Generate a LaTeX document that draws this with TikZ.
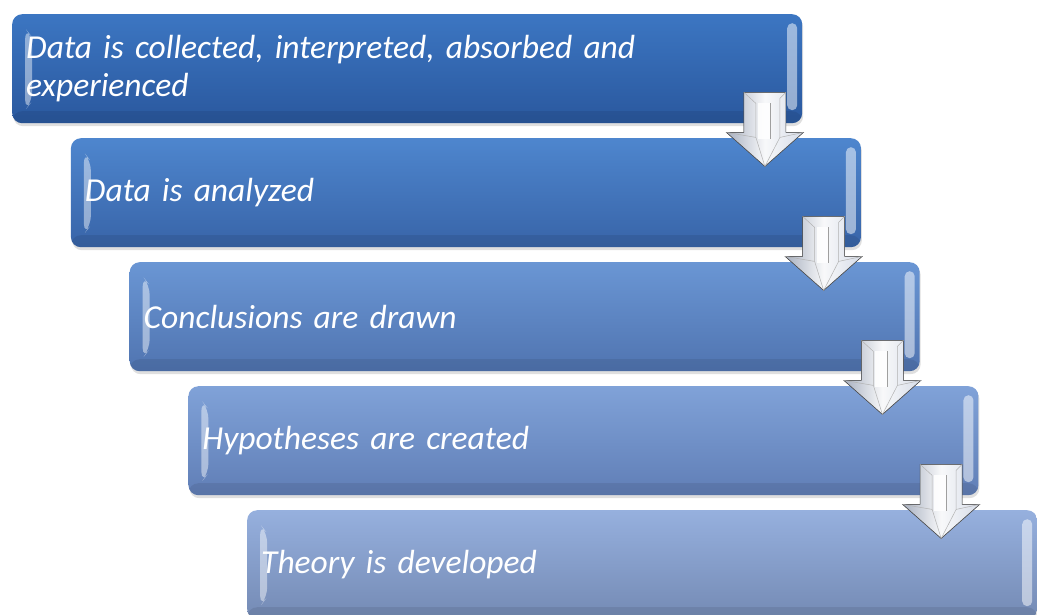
\documentclass[tikz,border=0pt]{standalone}
\usepackage{fontspec}
\setmainfont{Carlito}
\usetikzlibrary{calc, shadows, positioning}
\definecolor{stageAtop}{RGB}{60,118,194}
\definecolor{stageAbot}{RGB}{42,88,158}
\definecolor{stageBtop}{RGB}{78,134,206}
\definecolor{stageBbot}{RGB}{56,100,168}
\definecolor{stageCtop}{RGB}{106,150,212}
\definecolor{stageCbot}{RGB}{80,116,176}
\definecolor{stageDtop}{RGB}{128,162,216}
\definecolor{stageDbot}{RGB}{96,126,182}
\definecolor{stageEtop}{RGB}{150,176,222}
\definecolor{stageEbot}{RGB}{116,138,180}
\definecolor{arrowgrey}{RGB}{168,176,192}
\definecolor{arrowpale}{RGB}{214,220,232}

\tikzset{
  stagebox/.style={rounded corners=10pt, anchor=north west,
    minimum height=109pt, text width=762pt, inner xsep=14pt,
    align=left, text=white, font=\fontsize{33.5}{38}\selectfont\itshape,
    drop shadow={shadow xshift=1pt, shadow yshift=-3pt, opacity=.25},
    path picture={
      % left bevel
      \fill[white, opacity=.45]
        ($(path picture bounding box.north west)+(13,14)$) --
        ($(path picture bounding box.north west)+(20,23)$) --
        ($(path picture bounding box.south west)+(20,-22)$) --
        ($(path picture bounding box.south west)+(13,-13)$) -- cycle;
      % right shine
      \fill[white, opacity=.5, rounded corners=5pt]
        ($(path picture bounding box.north east)+(-15,9)$) rectangle
        ($(path picture bounding box.south east)+(-5,-13)$);
      % bottom rim
      \fill[black, opacity=.08]
        ($(path picture bounding box.south west)+(0,-12)$) rectangle
        (path picture bounding box.south east);
    }},
  arrowbody/.style={draw=gray!60!black, line width=.6pt,
    left color=arrowgrey, right color=arrowpale, middle color=white!92!arrowgrey},
  arrowline/.style={draw=gray!60, line width=.5pt}
}

% block arrow hanging from the lower right corner of a box
\newcommand{\stageArrow}[2]{%
  \coordinate (#2) at ($(#1.south east)+(-37.5,0)$);
  \begin{scope}[shift={(#2)}]
    \filldraw[arrowbody] (-21,-31) -- (21,-31) -- (21,9) -- (38.5,9)
      -- (0,43) -- (-38.5,9) -- (-21,9) -- cycle;
    \fill[white, opacity=.85] (-7,-20) rectangle (5,16);
    \draw[arrowline] (-21,-31) -- (-9,-20) -- (-9,14) -- (0,43);
    \draw[arrowline] (21,-31) -- (15,-25) -- (15,14) -- (0,43);
    \draw[arrowline] (-38.5,9) -- (-9,14);
    \draw[arrowline] (38.5,9) -- (15,14);
    \draw[gray!75, line width=.5pt] (5,-20) -- (5,16);
  \end{scope}}

\begin{document}
\begin{tikzpicture}[x=1pt, y=-1pt]
  \useasboundingbox (0,0) rectangle (1037,614);
  % stages
  \node[stagebox, top color=stageAtop, bottom color=stageAbot]
    (b1) at (12,14) {Data is collected, interpreted, absorbed and\\experienced};
  \node[stagebox, top color=stageBtop, bottom color=stageBbot]
    (b2) at (70.75,138) {Data is analyzed};
  \node[stagebox, top color=stageCtop, bottom color=stageCbot]
    (b3) at (129.5,262) {Conclusions are drawn};
  \node[stagebox, top color=stageDtop, bottom color=stageDbot]
    (b4) at (188.25,386) {Hypotheses are created};
  \node[stagebox, top color=stageEtop, bottom color=stageEbot]
    (b5) at (247,510) {Theory is developed};
  % arrows between stages
  \stageArrow{b1}{a1}
  \stageArrow{b2}{a2}
  \stageArrow{b3}{a3}
  \stageArrow{b4}{a4}
\end{tikzpicture}
\end{document}
